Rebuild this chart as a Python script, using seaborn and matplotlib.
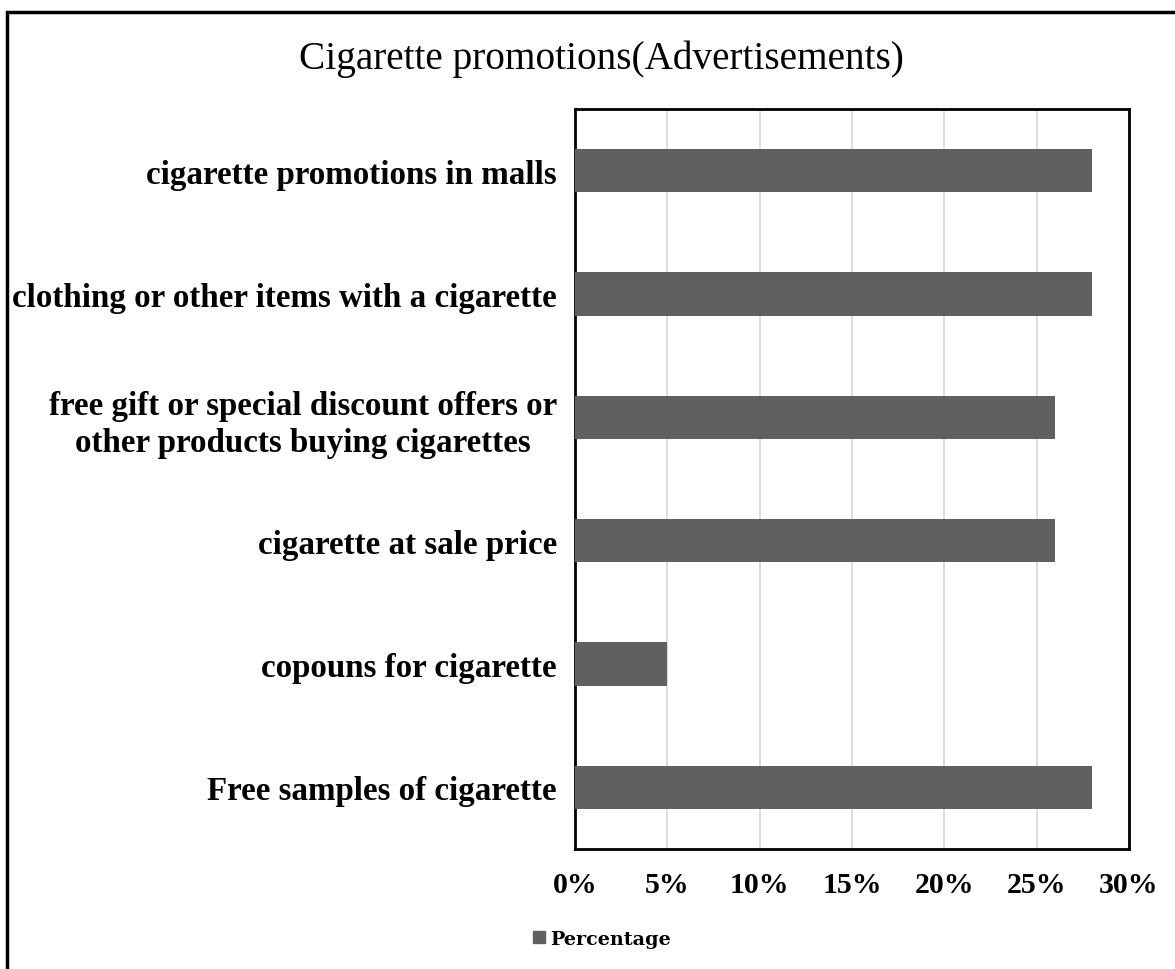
import pandas as pd
import matplotlib.pyplot as plt
import seaborn as sns
from matplotlib.patches import Rectangle, Patch
from matplotlib.ticker import PercentFormatter

# Data (percent)
categories = ['cigarette promotions in malls',
              'clothing or other items with a cigarette',
              'free gift or special discount offers or\nother products buying cigarettes',
              'cigarette at sale price',
              'copouns for cigarette',
              'Free samples of cigarette']
percentages = [28, 28, 26, 26, 5, 28]
xticks = [0, 5, 10, 15, 20, 25, 30]

df = pd.DataFrame({'Promotion': categories, 'Percentage': percentages})

sns.set_style('white')
plt.rcParams['font.family'] = ['Liberation Serif', 'DejaVu Serif']
plt.rcParams['text.color'] = 'black'
plt.rcParams['xtick.color'] = 'black'
plt.rcParams['ytick.color'] = 'black'

W, H = 1175, 970
fig = plt.figure(figsize=(W / 100, H / 100), dpi=100)
ax = fig.add_axes([575 / W, 1 - 850 / H, (1129 - 575) / W, (850 - 110) / H])

sns.barplot(data=df, x='Percentage', y='Promotion', color='#606060',
            width=0.35, saturation=1, linewidth=0, ax=ax, zorder=3)

ax.set_xlim(0, 30)
ax.set_xticks(xticks)
ax.xaxis.set_major_formatter(PercentFormatter(decimals=0))
ax.grid(axis='x', color='#d9d9d9', linewidth=1.3, zorder=0)
ax.set_axisbelow(True)
ax.set_xlabel('')
ax.set_ylabel('')
for s in ax.spines.values():
    s.set_visible(True)
    s.set_color('black')
    s.set_linewidth(2)
ax.tick_params(axis='both', length=0)
ax.tick_params(axis='x', pad=16)
ax.tick_params(axis='y', pad=13)
for lbl in ax.get_xticklabels():
    lbl.set_fontsize(21.5)
    lbl.set_fontweight('bold')
for lbl in ax.get_yticklabels():
    lbl.set_fontsize(23.8)
    lbl.set_fontweight('bold')
    lbl.set_multialignment('center')
    lbl.set_linespacing(1.25)

fig.text(601 / W, 1 - 69 / H, 'Cigarette promotions(Advertisements)',
         ha='center', va='baseline', fontsize=28.3)

fig.legend(handles=[Patch(color='#606060', label='Percentage')],
           loc='center', bbox_to_anchor=(602 / W, 1 - 940 / H),
           frameon=False, prop={'family': 'DejaVu Serif', 'weight': 'bold', 'size': 13.8},
           handlelength=0.6, handleheight=0.6, handletextpad=0.3)

fig.patches.append(Rectangle((7 / W, -0.05), 1.1, 1 - 13 / H + 0.05,
                             transform=fig.transFigure, fill=False,
                             edgecolor='black', linewidth=2.5))

fig.savefig('out.png', dpi=100)
